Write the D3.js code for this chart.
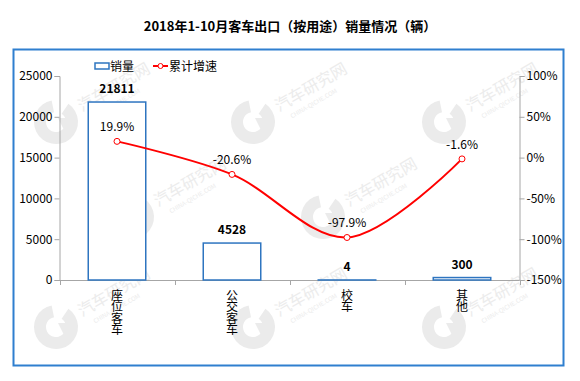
<!DOCTYPE html>
<html><head><meta charset="utf-8">
<script src="https://cdn.jsdelivr.net/npm/d3@7"></script>
<style>body{margin:0;background:#fff}svg{display:block}text{font-family:"Noto Sans CJK SC","DejaVu Sans",sans-serif}</style>
</head><body><svg id="c" width="580" height="381"></svg>
<script>
const categories = ["座位客车","公交客车","校车","其他"];
const sales = [21811, 4528, 4, 300];
const growth = [19.9, -20.6, -97.9, -1.6];
const leftTicks = [0, 5000, 10000, 15000, 20000, 25000];
const rightTicks = [-150, -100, -50, 0, 50, 100];
const watermarks = [[56,122],[253,122],[444,122],[132,217],[323,217],[56,327],[253,327],[444,327]];

const svg = d3.select("#c");
const W = 580, H = 381;
const m = {l:59.5, r:519.5, t:76, b:280};
svg.append("rect").attr("width",W).attr("height",H).attr("fill","#fff");

// watermarks
const wm = svg.append("g");
watermarks.forEach(([x,y])=>{
  const g = wm.append("g").attr("transform",`translate(${x},${y})`);
  g.append("path").attr("d", d3.arc()({innerRadius:10,outerRadius:22,startAngle:0.6,endAngle:2*Math.PI-0.2}))
   .attr("fill","#ebebeb");
  g.append("path").attr("d","M2,-4 L18,-4 L10,12 Z").attr("fill","#ebebeb");
  const t = g.append("g").attr("transform","translate(26,-10) rotate(-30)");
  t.append("text").attr("x",0).attr("y",0).attr("font-size",16).attr("fill","#ececec").text("汽车研究网");
  t.append("text").attr("x",8).attr("y",12).attr("font-size",6).attr("fill","#ececec").text("CHINA-QICHE.COM");
});

// frame
svg.append("rect").attr("x",13.5).attr("y",49.5).attr("width",550).attr("height",316)
  .attr("fill","none").attr("stroke","#2f7fcf").attr("stroke-width",2);

// title
svg.append("text").attr("x",290).attr("y",31).attr("text-anchor","middle")
  .attr("font-size",13).attr("font-weight","bold").attr("fill","#000")
  .text("2018年1-10月客车出口（按用途）销量情况（辆）");

const x = d3.scaleBand().domain(categories).range([m.l,m.r]).paddingInner(0.5).paddingOuter(0.25);
const xb = d3.scaleBand().domain(categories).range([m.l,m.r]);
const y = d3.scaleLinear().domain([0,25000]).range([m.b,m.t]);
const y2 = d3.scaleLinear().domain([-150,100]).range([m.b,m.t]);

// left axis
const la = svg.append("g").attr("transform",`translate(${m.l},0)`)
  .call(d3.axisLeft(y).tickValues(leftTicks).tickSize(5).tickFormat(d3.format("d")));
la.select(".domain").attr("stroke","#a6a6a6");
la.selectAll(".tick line").attr("stroke","#a6a6a6");
la.selectAll("text").attr("font-size",12).attr("fill","#000").attr("font-family","Liberation Sans, Arial, sans-serif").attr("x",-7);

// right axis
const ra = svg.append("g").attr("transform",`translate(${m.r},0)`)
  .call(d3.axisRight(y2).tickValues(rightTicks).tickSize(5).tickFormat(d=>d+"%"));
ra.select(".domain").attr("stroke","#a6a6a6");
ra.selectAll(".tick line").attr("stroke","#a6a6a6");
ra.selectAll("text").attr("font-size",12).attr("fill","#000").attr("font-family","Liberation Sans, Arial, sans-serif").attr("x",7);

// bottom axis
svg.append("line").attr("x1",m.l).attr("x2",m.r).attr("y1",m.b+0.5).attr("y2",m.b+0.5).attr("stroke","#a6a6a6");
const bnds = categories.map(c=>xb(c)).concat([m.r]);
svg.selectAll(".bt").data(bnds).join("line").attr("x1",d=>Math.round(d)+0.5).attr("x2",d=>Math.round(d)+0.5)
  .attr("y1",m.b).attr("y2",m.b+5).attr("stroke","#a6a6a6");

// bars
svg.selectAll(".bar").data(sales).join("rect")
  .attr("x",(d,i)=>x(categories[i])).attr("width",x.bandwidth())
  .attr("y",d=>y(d)).attr("height",d=>m.b-y(d))
  .attr("fill","#fff").attr("stroke","#2e75c0").attr("stroke-width",1.5);
svg.selectAll(".bl").data(sales).join("text")
  .attr("x",(d,i)=>xb(categories[i])+xb.bandwidth()/2).attr("y",d=>y(d)-9)
  .attr("text-anchor","middle").attr("font-size",12).attr("font-weight","bold")
  .attr("font-family","Liberation Sans, Arial, sans-serif").text(d=>d);

// line
const cx = i=>xb(categories[i])+xb.bandwidth()/2;
const line = d3.line().x((d,i)=>cx(i)).y(d=>y2(d)).curve(d3.curveCatmullRom.alpha(0.5));
svg.append("path").datum(growth).attr("d",line).attr("fill","none").attr("stroke","#ff0000").attr("stroke-width",2);
svg.selectAll(".pt").data(growth).join("circle").attr("cx",(d,i)=>cx(i)).attr("cy",d=>y2(d)).attr("r",3)
  .attr("fill","#fff").attr("stroke","#ff0000").attr("stroke-width",1);
svg.selectAll(".pl").data(growth).join("text")
  .attr("x",(d,i)=>cx(i)).attr("y",d=>y2(d)-10)
  .attr("text-anchor","middle").attr("font-size",12)
  .attr("font-family","Liberation Sans, Arial, sans-serif").text(d=>d.toFixed(1)+"%");

// category labels (vertical)
svg.selectAll(".cl").data(categories).join("text")
  .attr("x",(d,i)=>cx(i)).attr("y",m.b+9)
  .attr("font-size",12).attr("fill","#000")
  .style("writing-mode","vertical-rl").style("text-orientation","upright")
  .attr("text-anchor","start").attr("letter-spacing",-0.5)
  .text(d=>d);

// legend
svg.append("rect").attr("x",95).attr("y",63).attr("width",14).attr("height",6).attr("fill","#fff").attr("stroke","#2e75c0").attr("stroke-width",1.5);
svg.append("text").attr("x",110).attr("y",71).attr("font-size",12).text("销量");
svg.append("line").attr("x1",153).attr("x2",168).attr("y1",66).attr("y2",66).attr("stroke","#ff0000").attr("stroke-width",2);
svg.append("circle").attr("cx",160.5).attr("cy",66).attr("r",2.5).attr("fill","#fff").attr("stroke","#ff0000");
svg.append("text").attr("x",169).attr("y",71).attr("font-size",12).text("累计增速");
</script></body></html>
